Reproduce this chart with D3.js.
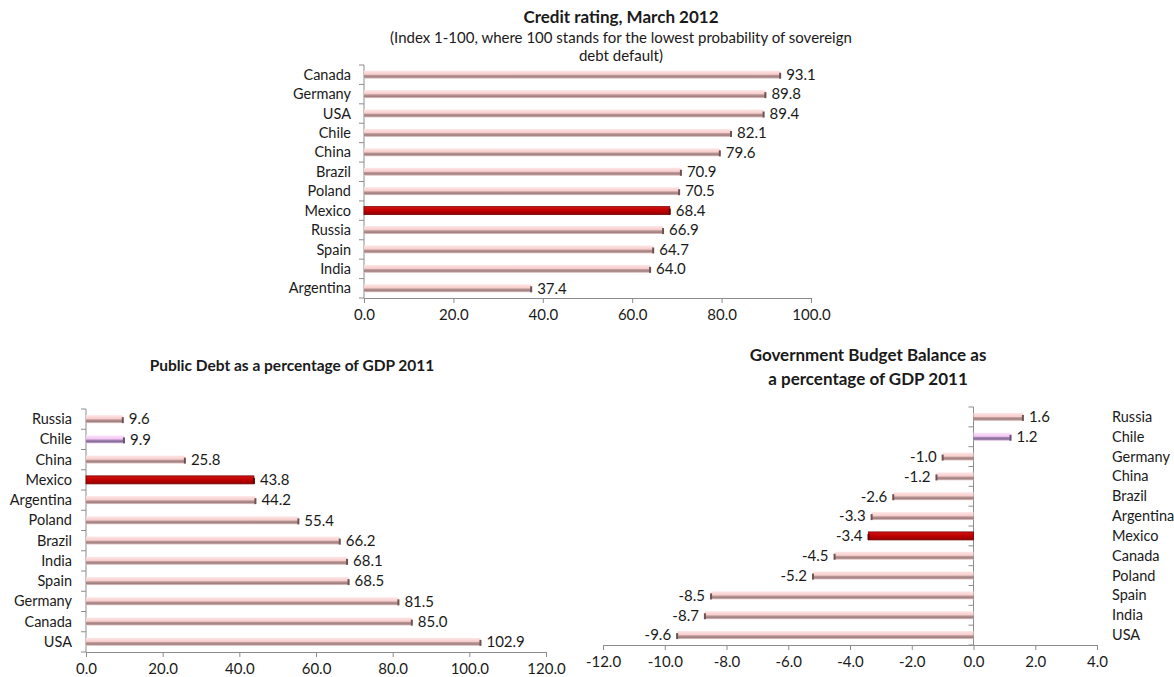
<!DOCTYPE html>
<html lang="en">
<head>
  <meta charset="UTF-8" />
  <title>Credit rating, debt and budget balance</title>
  <script src="https://d3js.org/d3.v7.min.js"></script>
  <style>
    body {
      margin: 0;
      padding: 0;
      background: #fff;
      font-family: Lato, "Liberation Sans", Arial, sans-serif;
    }
    svg text { fill: #1a1a1a; font-family: Lato, "Liberation Sans", Arial, sans-serif; }
    .title { font-weight: bold; font-size: 17px; }
    .title.small { font-size: 15.5px; }
    .sub { font-size: 15px; }
    .cat { font-size: 14.5px; }
    .val { font-size: 15px; }
    .axis .tick text { font-size: 15px; }
  </style>
</head>
<body>
  <svg id="chart" width="1174" height="677"></svg>

  <script>
    // Credit rating, March 2012
    const ratingCountries = ["Canada", "Germany", "USA", "Chile", "China", "Brazil", "Poland", "Mexico", "Russia", "Spain", "India", "Argentina"];
    const ratingValues = [93.1, 89.8, 89.4, 82.1, 79.6, 70.9, 70.5, 68.4, 66.9, 64.7, 64.0, 37.4];
    const ratingTicks = [0, 20, 40, 60, 80, 100];

    // Public debt, % of GDP 2011
    const debtCountries = ["Russia", "Chile", "China", "Mexico", "Argentina", "Poland", "Brazil", "India", "Spain", "Germany", "Canada", "USA"];
    const debtValues = [9.6, 9.9, 25.8, 43.8, 44.2, 55.4, 66.2, 68.1, 68.5, 81.5, 85.0, 102.9];
    const debtTicks = [0, 20, 40, 60, 80, 100, 120];

    // Government budget balance, % of GDP 2011
    const budgetCountries = ["Russia", "Chile", "Germany", "China", "Brazil", "Argentina", "Mexico", "Canada", "Poland", "Spain", "India", "USA"];
    const budgetValues = [1.6, 1.2, -1.0, -1.2, -2.6, -3.3, -3.4, -4.5, -5.2, -8.5, -8.7, -9.6];
    const budgetTicks = [-12, -10, -8, -6, -4, -2, 0, 2, 4];

    const svg = d3.select("#chart");
    const defs = svg.append("defs");
    const fmt = d3.formatLocale({ decimal: ".", thousands: ",", grouping: [3], currency: ["", ""], minus: "-" }).format(".1f");

    function grad(id, stops) {
      const g = defs.append("linearGradient").attr("id", id)
        .attr("x1", 0).attr("y1", 0).attr("x2", 0).attr("y2", 1);
      stops.forEach(s => g.append("stop").attr("offset", s[0]).attr("stop-color", s[1]));
    }
    grad("gPink", [[0, "#fde6e6"], [0.45, "#f8cdcd"], [0.6, "#b89494"], [0.8, "#a08080"], [1, "#f0d2d2"]]);
    grad("gPurple", [[0, "#fce6fc"], [0.45, "#f3c4f3"], [0.6, "#a082ae"], [0.8, "#846a96"], [1, "#e9c8ed"]]);
    grad("gRed", [[0, "#d21414"], [0.5, "#c00000"], [1, "#900000"]]);

    function styleOf(c, purpleChile) {
      if (c === "Mexico") return { fill: "url(#gRed)", stroke: "#7a0000", cap: "#600000" };
      if (c === "Chile" && purpleChile) return { fill: "url(#gPurple)", stroke: "none", cap: "#6a5078" };
      return { fill: "url(#gPink)", stroke: "none", cap: "#6e5252" };
    }

    function drawBars(opt) {
      const g = svg.append("g");
      const x = d3.scaleLinear().domain(opt.domain).range([opt.x0, opt.x1]);
      const y = d3.scaleBand().domain(opt.cats).range([opt.y0, opt.y1]);
      const barH = 8;
      const zero = x(0);

      // category axis: line at zero, small ticks between categories
      const bounds = opt.cats.map(c => y(c)).concat([opt.y1]);
      g.append("line")
        .attr("x1", zero).attr("x2", zero).attr("y1", opt.y0).attr("y2", opt.y1)
        .attr("stroke", "#8c8c8c");
      g.selectAll(".ctick").data(bounds).enter().append("line")
        .attr("x1", zero - 5).attr("x2", zero)
        .attr("y1", d => d).attr("y2", d => d)
        .attr("stroke", "#8c8c8c");

      // value axis
      const ax = g.append("g").attr("class", "axis")
        .attr("transform", `translate(0,${opt.y1})`)
        .call(d3.axisBottom(x).tickValues(opt.ticks).tickFormat(fmt).tickSizeOuter(0).tickSize(5).tickPadding(6));
      ax.select(".domain").attr("stroke", "#8c8c8c");
      ax.selectAll(".tick line").attr("stroke", "#8c8c8c");
      ax.selectAll(".tick text").attr("fill", "#1a1a1a");
      ax.attr("font-family", null).attr("font-size", null);

      opt.cats.forEach((c, i) => {
        const v = opt.values[i];
        const st = styleOf(c, opt.purpleChile);
        const cy = y(c) + y.bandwidth() / 2;
        const xa = Math.min(x(v), zero), xb = Math.max(x(v), zero);
        g.append("rect")
          .attr("x", xa).attr("y", cy - barH / 2)
          .attr("width", xb - xa).attr("height", barH)
          .attr("fill", st.fill).attr("stroke", st.stroke).attr("stroke-width", 0.8);
        g.append("line")
          .attr("x1", x(v)).attr("x2", x(v))
          .attr("y1", cy - 2).attr("y2", cy + 4)
          .attr("stroke", st.cap).attr("stroke-width", 2);
        g.append("text").attr("class", "val")
          .attr("x", v >= 0 ? x(v) + 6 : x(v) - 6)
          .attr("y", cy).attr("dy", "0.35em")
          .attr("text-anchor", v >= 0 ? "start" : "end")
          .text(fmt(v));
        g.append("text").attr("class", "cat")
          .attr("x", opt.labelX)
          .attr("y", cy).attr("dy", "0.35em")
          .attr("text-anchor", opt.labelAnchor)
          .text(c);
      });
    }

    // chart 1
    svg.append("text").attr("class", "title").attr("x", 621).attr("y", 23).attr("text-anchor", "middle")
      .text("Credit rating, March 2012");
    svg.append("text").attr("class", "sub").attr("x", 621).attr("y", 43).attr("text-anchor", "middle")
      .text("(Index 1-100, where 100 stands for the lowest probability of sovereign");
    svg.append("text").attr("class", "sub").attr("x", 621).attr("y", 61).attr("text-anchor", "middle")
      .text("debt default)");
    drawBars({
      cats: ratingCountries, values: ratingValues, ticks: ratingTicks,
      domain: [0, 100], x0: 364, x1: 811, y0: 65, y1: 298,
      labelX: 351, labelAnchor: "end", purpleChile: false
    });

    // chart 2
    svg.append("text").attr("class", "title small").attr("x", 292).attr("y", 371).attr("text-anchor", "middle")
      .text("Public Debt as a percentage of GDP 2011");
    drawBars({
      cats: debtCountries, values: debtValues, ticks: debtTicks,
      domain: [0, 120], x0: 86, x1: 546, y0: 409, y1: 652,
      labelX: 72, labelAnchor: "end", purpleChile: true
    });

    // chart 3
    svg.append("text").attr("class", "title").attr("x", 868).attr("y", 361).attr("text-anchor", "middle")
      .text("Government Budget Balance as");
    svg.append("text").attr("class", "title").attr("x", 868).attr("y", 385).attr("text-anchor", "middle")
      .text("a percentage of GDP 2011");
    drawBars({
      cats: budgetCountries, values: budgetValues, ticks: budgetTicks,
      domain: [-12, 4], x0: 603, x1: 1097, y0: 407, y1: 645,
      labelX: 1112, labelAnchor: "start", purpleChile: true
    });
  </script>
</body>
</html>
